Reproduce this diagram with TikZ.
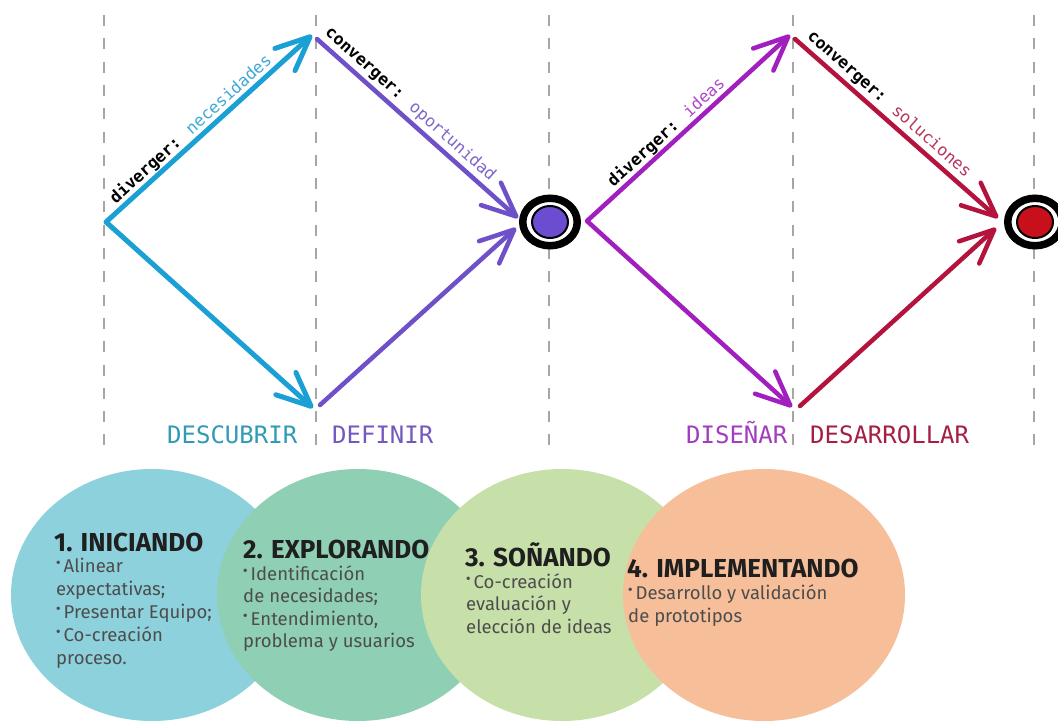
\documentclass[tikz,border=0pt]{standalone}
\usepackage{fontspec}
\setmainfont{Fira Sans}
\newfontfamily\monofont{DejaVu Sans Mono}
\usetikzlibrary{arrows.meta,shapes.geometric,calc}
\definecolor{cblue}{HTML}{1AA0D4}
\definecolor{cviolet}{HTML}{6E50C8}
\definecolor{cmag}{HTML}{A21FBF}
\definecolor{cred}{HTML}{B3133D}
\definecolor{lblue}{HTML}{3FA9D6}
\definecolor{lviolet}{HTML}{7F66CC}
\definecolor{lmag}{HTML}{B048CC}
\definecolor{lred}{HTML}{B8345A}
\definecolor{kdesc}{HTML}{2F9BB5}
\definecolor{kdef}{HTML}{7558BE}
\definecolor{kdis}{HTML}{A23DC0}
\definecolor{kdes}{HTML}{A51F44}
\definecolor{eone}{HTML}{8DD1DC}
\definecolor{etwo}{HTML}{8FCFB4}
\definecolor{ethree}{HTML}{C7E0A9}
\definecolor{efour}{HTML}{F6BE99}
\definecolor{tviolet}{HTML}{6A4DD0}
\definecolor{tred}{HTML}{C8101C}
\definecolor{bodygray}{HTML}{4D4D4D}
\newcommand\cbul{\raisebox{0.35ex}{\textbf{·}}\,}
\begin{document}
\begin{tikzpicture}[x=1pt,y=-1pt,
  guide/.style={draw=black!35, line width=1.3pt, dash pattern=on 11pt off 12.3pt},
  barb/.tip={Straight Barb[length=34pt,width=30pt,round]},
  flow/.style={line width=5pt, line cap=round, line join=round},
  lbl/.style={sloped, anchor=south, inner sep=3pt, font=\monofont\fontsize{16.5}{16.5}\selectfont},
  steplbl/.style={anchor=base west, inner sep=0pt, font=\monofont\fontsize{24}{24}\selectfont},
  tring/.style={ellipse, draw=black, fill=white, line width=7.5pt, minimum width=54.5pt, minimum height=47.5pt, inner sep=0pt},
  tcore/.style={ellipse, draw=black, line width=2pt, minimum width=36pt, minimum height=32pt, inner sep=0pt},
  ell/.style={ellipse, minimum width=282pt, minimum height=252pt, inner sep=0pt, draw=none},
  head/.style={anchor=base west, inner sep=0pt, text=black!88, font=\bfseries\fontsize{26}{26}\selectfont},
  body/.style={anchor=base west, inner sep=0pt, text=bodygray, font=\fontsize{18.5}{23}\selectfont}
]
\useasboundingbox (0,0) rectangle (1058,723);
\clip (0,0) rectangle (1058,723);
\fill[white] (0,0) rectangle (1058,723);
% guides
\foreach \gx/\gn in {104/ga,316/gb,549/gc,793/gd,1034/ge}{
  \coordinate (\gn top) at (\gx,15);
  \coordinate (\gn bot) at (\gx,448);
  \draw[guide] (\gn top) -- (\gn bot);
}
% coordinates
\coordinate (L1) at (106,222);
\coordinate (T1) at (312,35);
\coordinate (B1) at (313,408);
\coordinate (T1b) at (317,39);
\coordinate (B1b) at (320,405);
\coordinate (P1a) at (518,218);
\coordinate (P1b) at (516,228);
\coordinate (L2) at (587,221);
\coordinate (T2) at (790,35);
\coordinate (B2) at (792,407);
\coordinate (T2b) at (795,39);
\coordinate (B2b) at (800,406);
\coordinate (P2a) at (998,218);
\coordinate (P2b) at (996,228);
% targets
\node[tring] (t1) at (550,222) {};
\node[tcore, fill=tviolet] (k1) at (t1.center) {};
\node[tring] (t2) at (1035,222) {};
\node[tcore, fill=tred] (k2) at (t2.center) {};
% first diamond
\draw[flow, cblue, barb-barb] (T1) -- (L1) -- (B1);
\path (L1) -- node[lbl, pos=0.45] (n1) {{\bfseries\color{black}diverger:} {\color{lblue}necesidades}} (T1);
\draw[flow, cviolet, line width=4.5pt, -barb] (T1b) -- node[lbl, pos=0.42] (n2) {{\bfseries\color{black}converger:} {\color{lviolet}oportunidad}} (P1a);
\draw[flow, cviolet, line width=4.5pt, -barb] (B1b) -- (P1b);
% second diamond
\draw[flow, cmag, line width=4.5pt, barb-barb] (T2) -- (L2) -- (B2);
\path (L2) -- node[lbl, pos=0.43] (n3) {{\bfseries\color{black}diverger:} {\color{lmag}ideas}} (T2);
\draw[flow, cred, line width=4.5pt, -barb] (T2b) -- node[lbl, pos=0.42] (n4) {{\bfseries\color{black}converger:} {\color{lred}soluciones}} (P2a);
\draw[flow, cred, line width=4.5pt, -barb] (B2b) -- (P2b);
% phase labels
\node[steplbl, text=kdesc] (sdesc) at (167,443) {DESCUBRIR};
\node[steplbl, text=kdef] (sdef) at (332,443) {DEFINIR};
\node[steplbl, text=kdis] (sdis) at (686,443) {DISEÑAR};
\node[steplbl, text=kdes] (sdes) at (810,443) {DESARROLLAR};
% circles
\node[ell, fill=eone] (e1) at (152,595) {};
\node[ell, fill=etwo] (e2) at (358,595) {};
\node[ell, fill=ethree] (e3) at (562,595) {};
\node[ell, fill=efour] (e4) at (764,595) {};
% texts
\node[head] (h1) at (54,551) {1. INICIANDO};
\node[body] (b1) at (56,572) {\vtop{\baselineskip=23pt\hbox{\cbul Alinear}\hbox{expectativas;}\hbox{\cbul Presentar Equipo;}\hbox{\cbul Co-creación}\hbox{proceso.}}};
\node[head] (h2) at (243,558) {2. EXPLORANDO};
\node[body] (b2) at (243,580) {\vtop{\baselineskip=22.5pt\hbox{\cbul Identificación}\hbox{de necesidades;}\hbox{\cbul Entendimiento,}\hbox{problema y usuarios}}};
\node[head] (h3) at (465,566) {3. SOÑANDO};
\node[body] (b3) at (466,588) {\vtop{\baselineskip=22.5pt\hbox{\cbul Co-creación}\hbox{evaluación y}\hbox{elección de ideas}}};
\node[head] (h4) at (627,577) {4. IMPLEMENTANDO};
\node[body] (b4) at (628,599) {\vtop{\baselineskip=23pt\hbox{\cbul Desarrollo y validación}\hbox{de prototipos}}};
\end{tikzpicture}
\end{document}
